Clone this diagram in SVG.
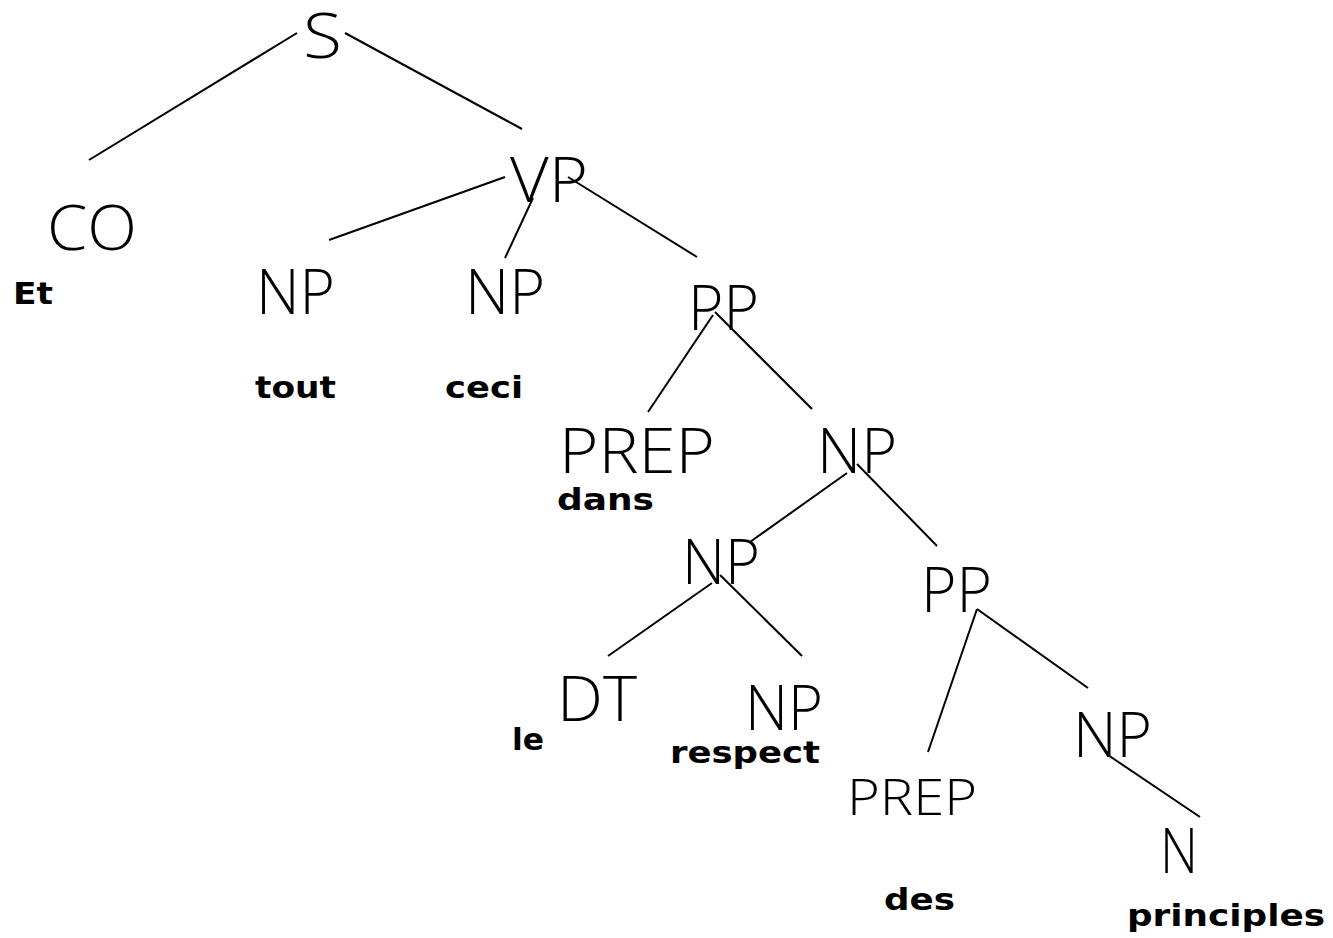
<svg xmlns="http://www.w3.org/2000/svg" width="1333" height="938" viewBox="0 0 1333 938">
  <style>
    .cat { font-family: "Open Sans", "Liberation Sans", Arial, sans-serif; font-weight: 300; font-size: 62px; fill: #000; }
    .cat.sm { font-size: 49px; }
    .word { font-family: "DejaVu Sans", "Liberation Sans", sans-serif; font-size: 30px; font-weight: bold; fill: #000; }
    #edges line { stroke: #000; stroke-width: 2; stroke-linecap: butt; }
  </style>
  <rect width="1333" height="938" fill="#fff"/>

  <!-- tree branches -->
  <g id="edges">
    <line x1="297" y1="33" x2="89" y2="160"/>
    <line x1="345" y1="33" x2="522" y2="129"/>
    <line x1="505" y1="177" x2="329" y2="240"/>
    <line x1="533" y1="198" x2="505" y2="258"/>
    <line x1="568" y1="177" x2="697" y2="257"/>
    <line x1="713" y1="315" x2="648" y2="412"/>
    <line x1="715" y1="312" x2="812" y2="409"/>
    <line x1="847" y1="473" x2="750" y2="542"/>
    <line x1="857" y1="464" x2="937" y2="546"/>
    <line x1="712" y1="583" x2="608" y2="656"/>
    <line x1="720" y1="575" x2="802" y2="656"/>
    <line x1="977" y1="609" x2="928" y2="752"/>
    <line x1="977" y1="609" x2="1088" y2="688"/>
    <line x1="1108" y1="755" x2="1200" y2="817"/>
  </g>

  <!-- constituents -->
  <g id="n-s"><text class="cat" x="303" y="58" textLength="39" lengthAdjust="spacingAndGlyphs">S</text></g>
  <g id="n-co">
    <text class="cat" x="47" y="250" textLength="90" lengthAdjust="spacingAndGlyphs">CO</text>
    <text class="word" x="13" y="304" textLength="40" lengthAdjust="spacingAndGlyphs">Et</text>
  </g>
  <g id="n-vp"><text class="cat" x="510" y="202" textLength="78" lengthAdjust="spacingAndGlyphs">VP</text></g>
  <g id="n-np-tout">
    <text class="cat" x="256" y="314" textLength="79" lengthAdjust="spacingAndGlyphs">NP</text>
    <text class="word" x="255" y="398" textLength="81" lengthAdjust="spacingAndGlyphs">tout</text>
  </g>
  <g id="n-np-ceci">
    <text class="cat" x="465" y="314" textLength="80" lengthAdjust="spacingAndGlyphs">NP</text>
    <text class="word" x="445" y="398" textLength="78" lengthAdjust="spacingAndGlyphs">ceci</text>
  </g>
  <g id="n-pp"><text class="cat" x="688" y="330" textLength="71" lengthAdjust="spacingAndGlyphs">PP</text></g>
  <g id="n-prep-dans">
    <text class="cat" x="559" y="473" textLength="156" lengthAdjust="spacingAndGlyphs">PREP</text>
    <text class="word" x="557" y="510" textLength="97" lengthAdjust="spacingAndGlyphs">dans</text>
  </g>
  <g id="n-np-upper"><text class="cat" x="817" y="473" textLength="80" lengthAdjust="spacingAndGlyphs">NP</text></g>
  <g id="n-np-mid"><text class="cat" x="682" y="584" textLength="78" lengthAdjust="spacingAndGlyphs">NP</text></g>
  <g id="n-pp-lower"><text class="cat" x="921" y="612" textLength="71" lengthAdjust="spacingAndGlyphs">PP</text></g>
  <g id="n-dt-le">
    <text class="cat" x="557" y="721" textLength="80" lengthAdjust="spacingAndGlyphs">DT</text>
    <text class="word" x="512" y="750" textLength="32" lengthAdjust="spacingAndGlyphs">le</text>
  </g>
  <g id="n-np-respect">
    <text class="cat" x="745" y="730" textLength="78" lengthAdjust="spacingAndGlyphs">NP</text>
    <text class="word" x="670" y="763" textLength="150" lengthAdjust="spacingAndGlyphs">respect</text>
  </g>
  <g id="n-prep-des">
    <text class="cat sm" x="847" y="815" textLength="130" lengthAdjust="spacingAndGlyphs">PREP</text>
    <text class="word" x="884" y="910" textLength="71" lengthAdjust="spacingAndGlyphs">des</text>
  </g>
  <g id="n-np-lower"><text class="cat" x="1073" y="757" textLength="79" lengthAdjust="spacingAndGlyphs">NP</text></g>
  <g id="n-n-principles">
    <text class="cat" x="1160" y="873" textLength="38" lengthAdjust="spacingAndGlyphs">N</text>
    <text class="word" x="1127" y="926" textLength="198" lengthAdjust="spacingAndGlyphs">principles</text>
  </g>
</svg>
